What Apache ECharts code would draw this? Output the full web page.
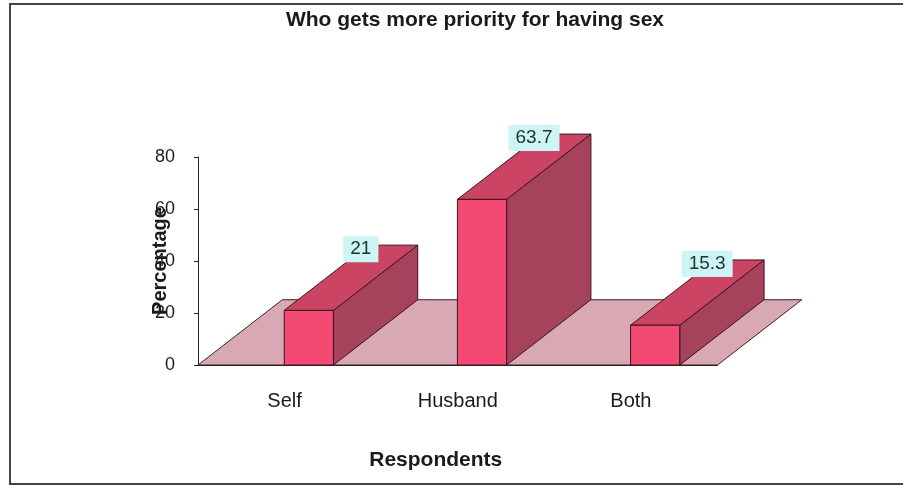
<!DOCTYPE html>
<html>
<head>
<meta charset="utf-8">
<script src="https://cdn.jsdelivr.net/npm/echarts@6/dist/echarts.min.js"></script>
<style>html,body{margin:0;padding:0;background:#fff;}#chart{width:903px;height:485px;}</style>
</head>
<body>
<div id="chart"></div>
<script>
const categories = ['Self', 'Husband', 'Both'];
const values = [21, 63.7, 15.3];
const yTicks = [0, 20, 40, 60, 80];

const FONT = 'Liberation Sans, Arial, sans-serif';
const chart = echarts.init(document.getElementById('chart'));

function depth(band) {
  const dx = band * 0.487;
  return [dx, -dx * 0.774];
}

chart.setOption({
  backgroundColor: '#ffffff',
  animation: false,
  title: {
    text: 'Who gets more priority for having sex',
    left: 470, textAlign: 'center', top: 5,
    textStyle: { fontFamily: FONT, fontSize: 21, fontWeight: 'bold', color: '#1a1a1a' }
  },
  graphic: [{
    type: 'rect', silent: true, z: -10,
    shape: { x: 10, y: 4, width: 900, height: 480 },
    style: { fill: 'none', stroke: '#444', lineWidth: 2 }
  }],
  grid: { left: 198, right: 185.5, top: 157, bottom: 120 },
  xAxis: {
    type: 'category', data: categories,
    name: 'Respondents', nameLocation: 'middle', nameGap: 85,
    nameTextStyle: { fontFamily: FONT, fontSize: 21, fontWeight: 'bold', color: '#1a1a1a', padding: [0, 44, 0, 0] },
    axisLine: { show: true, lineStyle: { color: '#222', width: 1 } },
    axisTick: { show: false },
    axisLabel: { fontFamily: FONT, fontSize: 20, color: '#1a1a1a', margin: 26 }
  },
  yAxis: {
    type: 'value', min: yTicks[0], max: yTicks[yTicks.length - 1], interval: 20,
    name: 'Percentage', nameLocation: 'middle', nameGap: 28, nameRotate: 90, nameMoveOverlap: false,
    nameTextStyle: { fontFamily: FONT, fontSize: 20, fontWeight: 'bold', color: '#1a1a1a' },
    axisLine: { show: true, lineStyle: { color: '#222', width: 1 } },
    axisTick: { show: true, length: 4, inside: false, lineStyle: { color: '#222' } },
    splitLine: { show: false },
    axisLabel: { fontFamily: FONT, fontSize: 18, color: '#1a1a1a', margin: 23 }
  },
  series: [
    {
      type: 'custom', name: 'floor', z: 1,
      data: [[0, 0]],
      renderItem: function (params, api) {
        const band = api.size([1, 0])[0];
        const c0 = api.coord([0, 0]);
        const x0 = c0[0] - band / 2;
        const x1 = x0 + band * categories.length;
        const y = c0[1];
        const d = depth(band);
        return {
          type: 'polygon',
          shape: { points: [[x0, y], [x1, y], [x1 + d[0], y + d[1]], [x0 + d[0], y + d[1]]] },
          style: { fill: '#d8a9b2', stroke: '#3a2226', lineWidth: 1 }
        };
      }
    },
    {
      type: 'custom', name: 'bars', z: 2,
      data: values.map((v, i) => [i, v]),
      renderItem: function (params, api) {
        const idx = api.value(0), v = api.value(1);
        const base = api.coord([idx, 0]);
        const top = api.coord([idx, v]);
        const band = api.size([1, 0])[0];
        const w = band * 0.284;
        const cx = base[0] + band * 0.14;
        const d = depth(band);
        const x0 = cx - w / 2, x1 = cx + w / 2;
        const yb = base[1], yt = top[1];
        const stroke = '#3a1520';
        return {
          type: 'group',
          children: [
            { type: 'polygon', shape: { points: [[x1, yb], [x1 + d[0], yb + d[1]], [x1 + d[0], yt + d[1]], [x1, yt]] },
              style: { fill: '#a6425c', stroke: stroke, lineWidth: 1 } },
            { type: 'polygon', shape: { points: [[x0, yt], [x0 + d[0], yt + d[1]], [x1 + d[0], yt + d[1]], [x1, yt]] },
              style: { fill: '#cb4464', stroke: stroke, lineWidth: 1 } },
            { type: 'rect', shape: { x: x0, y: yt, width: w, height: yb - yt },
              style: { fill: '#f24a72', stroke: stroke, lineWidth: 1 } },
            { type: 'text', z2: 10,
              style: { text: String(v), x: cx + 52, y: yt + d[1] + 4, align: 'center', verticalAlign: 'middle',
                font: '19px ' + FONT, fill: '#1b3333', backgroundColor: '#cdf5f5', padding: [4, 7, 3, 7] } }
          ]
        };
      }
    }
  ]
});
</script>
</body>
</html>
